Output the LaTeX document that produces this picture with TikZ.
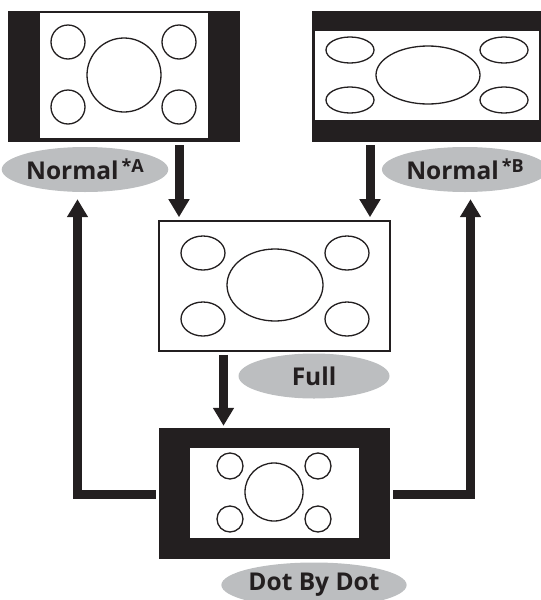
\documentclass[tikz,border=0pt]{standalone}
\usepackage{fontspec}
\setmainfont{Open Sans}
\usetikzlibrary{arrows.meta,shapes.geometric}
\definecolor{ink}{HTML}{231F20}
\definecolor{pill}{HTML}{BCBEC0}
\newcommand{\supmark}[1]{\hspace{3pt}{\fontsize{18}{18}\selectfont\raisebox{6.5pt}{#1}}}
\begin{document}
\begin{tikzpicture}[x=1pt,y=-1pt,
  blackscreen/.style={draw=none,fill=ink,inner sep=0pt,minimum width=#1},
  framescreen/.style={draw=ink,line width=1.6pt,fill=white,inner sep=0pt,minimum width=#1},
  window/.style={draw=none,fill=white},
  shapeline/.style={draw=ink,line width=1.3pt,fill=white},
  pilllabel/.style={ellipse,fill=pill,draw=none,inner sep=0pt,minimum width=151pt,minimum height=45pt,
    font=\bfseries\fontsize{24.5}{24.5}\selectfont,text=ink},
  arr/.style={draw=ink,line width=9pt,line join=miter,-{Triangle[width=20pt,length=18pt]}}]
\useasboundingbox (0,0) rectangle (541,600);

% ---------- top-left screen (Normal *A)
\node[blackscreen=232pt,minimum height=131pt] (tl) at (124,76.5) {};
\fill[window] (40,13) rectangle (208,138);
\draw[shapeline] (68,42) circle[radius=17pt];
\draw[shapeline] (179,42) circle[radius=17pt];
\draw[shapeline] (68,107) circle[radius=17pt];
\draw[shapeline] (179,107) circle[radius=17pt];
\draw[shapeline] (124,75) circle[radius=37pt];

% ---------- top-right screen (Normal *B)
\node[blackscreen=229pt,minimum height=131pt] (tr) at (426.5,76.5) {};
\fill[window] (315,31) rectangle (538.5,120);
\draw[shapeline] (350,50) ellipse[x radius=24pt,y radius=13pt];
\draw[shapeline] (504,50) ellipse[x radius=24pt,y radius=13pt];
\draw[shapeline] (350,100) ellipse[x radius=24pt,y radius=13pt];
\draw[shapeline] (504,100) ellipse[x radius=24pt,y radius=13pt];
\draw[shapeline] (428,75) ellipse[x radius=52pt,y radius=29pt];

% ---------- middle screen (Full)
\node[framescreen=231pt,minimum height=130pt] (full) at (274.5,286) {};
\draw[shapeline] (203,253) ellipse[x radius=22pt,y radius=17pt];
\draw[shapeline] (347,253) ellipse[x radius=22pt,y radius=17pt];
\draw[shapeline] (203,319) ellipse[x radius=22pt,y radius=17pt];
\draw[shapeline] (347,319) ellipse[x radius=22pt,y radius=17pt];
\draw[shapeline] (275,285) ellipse[x radius=48pt,y radius=36pt];

% ---------- bottom screen (Dot By Dot)
\node[blackscreen=231pt,minimum height=131pt] (dot) at (274.5,493.5) {};
\fill[window] (190,448) rectangle (359,538);
\draw[shapeline] (230,466) circle[radius=13pt];
\draw[shapeline] (318,466) circle[radius=13pt];
\draw[shapeline] (230,519) circle[radius=13pt];
\draw[shapeline] (318,519) circle[radius=13pt];
\draw[shapeline] (274,492) circle[radius=29pt];

% ---------- labels
\node[pilllabel] (nA) at (85,169.5) {Normal\supmark{*A}};
\node[pilllabel] (nB) at (465,169.5) {Normal\supmark{*B}};
\node[pilllabel] (fl) at (314,376) {Full};
\node[pilllabel] (dl) at (314,585) {Dot By Dot};

% ---------- connectors
\draw[arr,shorten <=3pt,shorten >=3pt] ([xshift=55pt]tl.south) -- ([xshift=-95.5pt]full.north);
\draw[arr,shorten <=3pt,shorten >=3pt] ([xshift=-56.5pt]tr.south) -- ([xshift=95.5pt]full.north);
\draw[arr,shorten <=3pt,shorten >=2pt] ([xshift=-51pt]full.south) -- ([xshift=-51pt]dot.north);
\draw[arr] ([xshift=-3pt,yshift=-1pt]dot.west) -| ([xshift=-7.5pt,yshift=-7pt]nA.south);
\draw[arr] ([xshift=3pt,yshift=-1pt]dot.east) -| ([xshift=5.5pt,yshift=-7pt]nB.south);
\end{tikzpicture}
\end{document}
